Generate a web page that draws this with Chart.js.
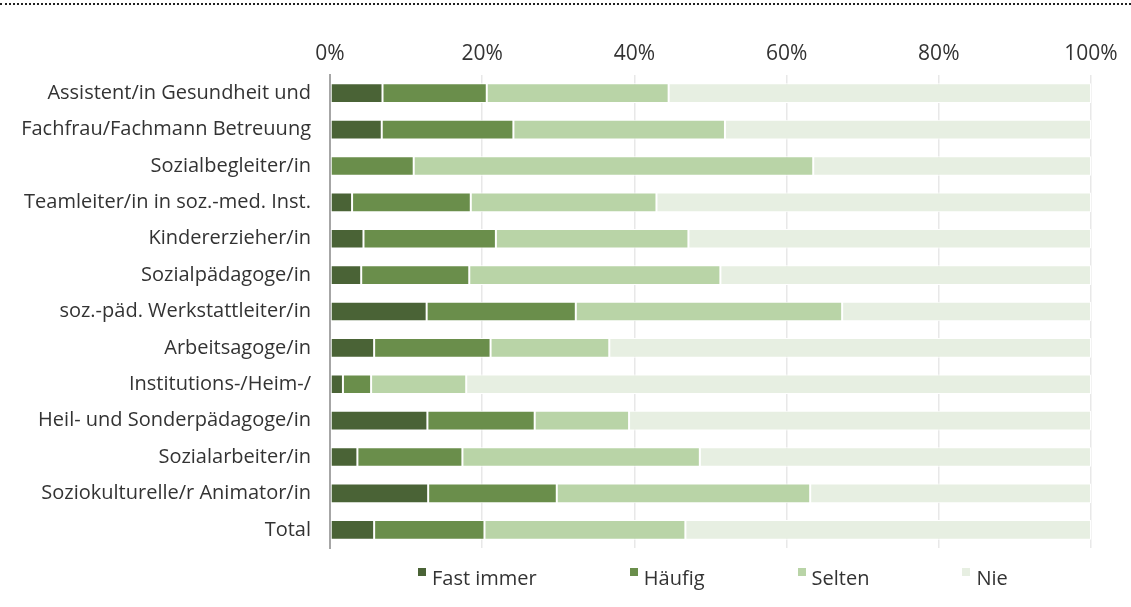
<!DOCTYPE html>
<html>
<head>
<meta charset="utf-8">
<script src="https://cdn.jsdelivr.net/npm/chart.js"></script>
<style>
    html, body { margin: 0; padding: 0; background: #fff; }
    #wrap { position: relative; width: 1131px; height: 607px; overflow: hidden; }
    #dots { position: absolute; left: 0; top: 3px; width: 1131px; border-top: 2px dotted #222; }
    #legend { position: absolute; top: 564px; left: 418px; display: flex; font-family: "Open Sans", sans-serif; font-size: 20px; line-height: normal; color: #333; white-space: nowrap; }
    #legend .item { display: flex; align-items: flex-start; margin-right: 93px; }
    #legend .box { width: 8px; height: 8px; margin-top: 4px; margin-right: 6px; }
</style>
</head>
<body>
<div id="wrap">
    <div id="dots"></div>
    <canvas id="chart" width="1131" height="607"></canvas>
    <div id="legend"></div>
</div>
<script>
// Kategorien (Berufsgruppen)
const categories = [
    'Assistent/in Gesundheit und',
    'Fachfrau/Fachmann Betreuung',
    'Sozialbegleiter/in',
    'Teamleiter/in in soz.-med. Inst.',
    'Kindererzieher/in',
    'Sozialpädagoge/in',
    'soz.-päd. Werkstattleiter/in',
    'Arbeitsagoge/in',
    'Institutions-/Heim-/',
    'Heil- und Sonderpädagoge/in',
    'Sozialarbeiter/in',
    'Soziokulturelle/r Animator/in',
    'Total'
];

// Anteile in % pro Antwort
const fastImmer = [6.9, 6.8, 0, 2.9, 4.4, 4.1, 12.7, 5.8, 1.7, 12.8, 3.6, 12.9, 5.8];
const haeufig   = [13.7, 17.3, 11.0, 15.6, 17.4, 14.2, 19.6, 15.3, 3.7, 14.1, 13.8, 16.9, 14.5];
const selten    = [23.9, 27.8, 52.5, 24.4, 25.3, 33.0, 35.0, 15.6, 12.5, 12.4, 31.2, 33.3, 26.4];
const nie       = [55.5, 48.1, 36.5, 57.1, 52.9, 48.7, 32.7, 63.3, 82.1, 60.7, 51.4, 36.9, 53.3];

const seriesNames = ['Fast immer', 'Häufig', 'Selten', 'Nie'];
const tickLabels = ['0%', '20%', '40%', '60%', '80%', '100%'];

const colors = ['#4a6336', '#6a8e4b', '#b9d4a7', '#e7efe2'];
const seriesData = [fastImmer, haeufig, selten, nie];

const datasets = seriesNames.map((name, i) => ({
    label: name,
    data: seriesData[i],
    backgroundColor: colors[i],
    borderColor: '#ffffff',
    borderWidth: 1,
    borderSkipped: false,
    barPercentage: 0.54,
    categoryPercentage: 1
}));

new Chart(document.getElementById('chart'), {
    type: 'bar',
    data: { labels: categories, datasets },
    options: {
        indexAxis: 'y',
        responsive: false,
        animation: false,
        devicePixelRatio: 1,
        layout: { padding: { top: 0, right: 40, bottom: 59, left: 0 } },
        plugins: {
            legend: { display: false },
            tooltip: { enabled: false }
        },
        scales: {
            x: {
                position: 'top',
                stacked: true,
                min: 0,
                max: 100,
                ticks: {
                    stepSize: 20,
                    padding: 8,
                    color: '#333',
                    font: { family: '"Open Sans", sans-serif', size: 21 },
                    callback: (v) => tickLabels[v / 20]
                },
                grid: {
                    color: (ctx) => ctx.index === 0 ? 'rgba(0,0,0,0)' : '#e8e8e8',
                    lineWidth: 1.5,
                    drawTicks: false
                },
                border: { display: false },
                afterFit: (scale) => { scale.height = 75; }
            },
            y: {
                stacked: true,
                ticks: {
                    padding: 19,
                    color: '#333',
                    font: { family: '"Open Sans", sans-serif', size: 20 }
                },
                grid: { display: false, drawTicks: false },
                border: { display: true, color: '#a6a6a6', width: 2 },
                afterFit: (scale) => { scale.width = 330; }
            }
        }
    }
});

// Legende unten
const legendEl = document.getElementById('legend');
seriesNames.forEach((name, i) => {
    const item = document.createElement('div');
    item.className = 'item';
    const box = document.createElement('span');
    box.className = 'box';
    box.style.background = colors[i];
    const txt = document.createElement('span');
    txt.textContent = name;
    item.appendChild(box);
    item.appendChild(txt);
    legendEl.appendChild(item);
});
</script>
</body>
</html>
